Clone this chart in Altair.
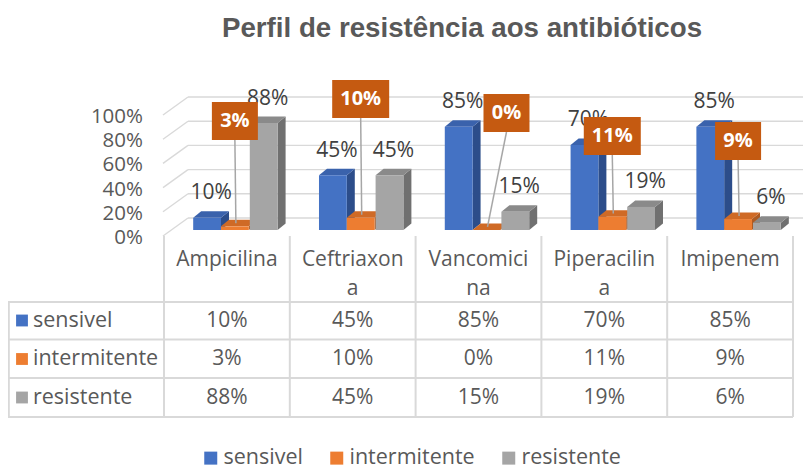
import altair as alt
import pandas as pd

# ---------------- data ----------------
categories = ["Ampicilina", "Ceftriaxona", "Vancomicina", "Piperacilina", "Imipenem"]
category_lines = ["Ampicilina", "Ceftriaxon\na", "Vancomici\nna", "Piperacilin\na", "Imipenem"]
series = ["sensivel", "intermitente", "resistente"]
sensivel = [10, 45, 85, 70, 85]
intermitente = [3, 10, 0, 11, 9]
resistente = [88, 45, 15, 19, 6]
y_ticks = [0, 20, 40, 60, 80, 100]
title_text = "Perfil de resistência aos antibióticos"

# ---------------- styles ----------------
front_colors = ["#4472C4", "#ED7D31", "#A5A5A5"]
side_colors = ["#2C4D8A", "#AD5A22", "#707070"]
top_colors = ["#3A62AC", "#CF6A26", "#8A8A8A"]
label_box_color = "#C55A11"
grid_color = "#D9D9D9"
text_color = "#595959"
label_color = "#404040"
FONT = "Open Sans"

# ---------------- layout (page pixels) ----------------
W, H, PAGE = 795, 457, 8
X0, CW = 164.0, 125.8          # first category edge, category width
BASE, PPP = 230.0, 1.215       # bar base line, pixels per percent
GRID_PPP = 1.21
bar_left = [0.232, 0.453, 0.682]
BW = 0.221
DX = 8.0 / CW
DY = 6.5 / PPP
# orange label boxes (dragged by hand in the original)
box_dx_px = [0, 0, 20, 0, 0]
box_cy_px = [121, 99, 113, 136, 141]


def ux(px):
    return (px - X0) / CW


def vy(py):
    return (BASE - py) / PPP


xdom = [ux(PAGE), ux(PAGE + W)]
ydom = [vy(PAGE + H), vy(PAGE)]
xs = alt.Scale(domain=xdom, nice=False, zero=False)
ys = alt.Scale(domain=ydom, nice=False, zero=False)


def X(f, **kw):
    return alt.X(f, type="quantitative", scale=xs, axis=None, **kw)


def Y(f, **kw):
    return alt.Y(f, type="quantitative", scale=ys, axis=None, **kw)


values = [sensivel, intermitente, resistente]

# ---------------- bar geometry tables ----------------
front_rows, side_rows, top_rows, lab_rows = [], [], [], []
for i, cat in enumerate(categories):
    for s, name in enumerate(series):
        v = values[s][i]
        x0 = i + bar_left[s]
        x1 = x0 + BW
        bid = f"{i}-{s}"
        front_rows.append({"series": name, "x0": x0, "x1": x1, "y0": 0, "y1": v})
        side_rows.append({"id": bid, "col": side_colors[s], "x": x1, "lo": 0, "hi": v})
        side_rows.append({"id": bid, "col": side_colors[s], "x": x1 + DX, "lo": DY, "hi": v + DY})
        top_rows.append({"id": bid, "col": top_colors[s], "y": v, "xa": x0, "xb": x1})
        top_rows.append({"id": bid, "col": top_colors[s], "y": v + DY, "xa": x0 + DX, "xb": x1 + DX})
        if s != 1:
            lab_rows.append({"x": (x0 + x1) / 2 + DX / 2, "y": v + 24.5 / PPP, "t": f"{v}%"})

front_df = pd.DataFrame(front_rows)
side_df = pd.DataFrame(side_rows)
top_df = pd.DataFrame(top_rows)
lab_df = pd.DataFrame(lab_rows)

color_scale = alt.Scale(domain=series, range=front_colors)
legend = alt.Legend(
    orient="none", legendX=192, legendY=439, direction="horizontal", title=None,
    symbolType="square", symbolSize=169, symbolStrokeWidth=0, symbolOpacity=1,
    labelFont=FONT, labelFontSize=21.5, labelColor=text_color,
    columnPadding=23, labelOffset=2, padding=0,
)

sides = alt.Chart(side_df).mark_area(interpolate="linear").encode(
    x=X("x"), y=Y("lo", stack=None), y2="hi", detail="id:N",
    fill=alt.Fill("col:N", scale=None),
)
tops = alt.Chart(top_df).mark_area(orient="horizontal", interpolate="linear").encode(
    y=Y("y"), x=X("xa", stack=None), x2="xb", detail="id:N",
    fill=alt.Fill("col:N", scale=None),
)
fronts = alt.Chart(front_df).mark_rect().encode(
    x=X("x0"), x2="x1", y=Y("y0"), y2="y1",
    color=alt.Color("series:N", scale=color_scale, legend=legend),
)

# ---------------- gridlines (3D back wall + floor diagonals) ----------------
grid_df = pd.DataFrame({
    "v": y_ticks,
    "fx": [ux(163)] * len(y_ticks),
    "bx": [ux(188)] * len(y_ticks),
    "ex": [xdom[1]] * len(y_ticks),
    "fy": [vy(236 - GRID_PPP * t) for t in y_ticks],
    "by": [vy(218 - GRID_PPP * t) for t in y_ticks],
    "ly": [vy(238 - GRID_PPP * t) for t in y_ticks],
    "lx": [ux(143)] * len(y_ticks),
    "t": [f"{t}%" for t in y_ticks],
})
grid_back = alt.Chart(grid_df).mark_rule(color=grid_color, strokeWidth=1.4).encode(
    x=X("bx"), x2="ex", y=Y("by"))
grid_diag = alt.Chart(grid_df).mark_rule(color=grid_color, strokeWidth=1.4).encode(
    x=X("fx"), x2="bx", y=Y("fy"), y2="by")
ytick_labels = alt.Chart(grid_df).mark_text(
    align="right", baseline="middle", font=FONT, fontSize=20.5, color=text_color
).encode(x=X("lx"), y=Y("ly"), text="t:N")

# ---------------- value labels ----------------
value_labels = alt.Chart(lab_df).mark_text(
    align="center", baseline="middle", font=FONT, fontSize=21, color=label_color
).encode(x=X("x"), y=Y("y"), text="t:N")

box_rows, lead_rows = [], []
for i, v in enumerate(intermitente):
    t = f"{v}%"
    oc = i + bar_left[1] + BW / 2
    cx = oc + box_dx_px[i] / CW
    hw = (24 + 11 * len(t)) / 2 / CW
    cy = box_cy_px[i]
    box_rows.append({"x0": cx - hw, "x1": cx + hw, "y0": vy(cy + 19), "y1": vy(cy - 19),
                     "cx": cx, "cy": vy(cy), "t": t})
    lead_rows.append({"x0": cx, "y0": vy(cy + 19), "x1": oc + 1 / CW, "y1": v + 2.5})
box_df = pd.DataFrame(box_rows)
lead_df = pd.DataFrame(lead_rows)

leaders = alt.Chart(lead_df).mark_rule(color="#A6A6A6", strokeWidth=1.5).encode(
    x=X("x0"), y=Y("y0"), x2="x1", y2="y1")
boxes = alt.Chart(box_df).mark_rect(color=label_box_color).encode(
    x=X("x0"), x2="x1", y=Y("y0"), y2="y1")
box_text = alt.Chart(box_df).mark_text(
    align="center", baseline="middle", font=FONT, fontSize=20, fontWeight="bold", color="white"
).encode(x=X("cx"), y=Y("cy"), text="t:N")

# ---------------- data table ----------------
row_lines_px = [302, 339.5, 378, 417]
row_centers_px = [320.5, 359, 397.5]
vlines_df = pd.DataFrame({
    "x": list(range(len(categories) + 1)) + [ux(8.8)],
    "y0": [vy(236)] * (len(categories) + 1) + [vy(302)],
    "y1": [vy(417)] * (len(categories) + 2),
})
hlines_df = pd.DataFrame({
    "y": [vy(p) for p in row_lines_px],
    "x0": [ux(8)] * len(row_lines_px),
    "x1": [len(categories)] * len(row_lines_px),
})
table_v = alt.Chart(vlines_df).mark_rule(color=grid_color, strokeWidth=2).encode(
    x=X("x"), y=Y("y0"), y2="y1")
table_h = alt.Chart(hlines_df).mark_rule(color=grid_color, strokeWidth=2).encode(
    x=X("x0"), x2="x1", y=Y("y"))

cat_df = pd.DataFrame({"x": [i + 0.5 for i in range(len(categories))],
                       "y": [vy(266)] * len(categories), "t": category_lines})
cat_text = alt.Chart(cat_df).mark_text(
    align="center", baseline="alphabetic", font=FONT, fontSize=21, color=text_color,
    lineBreak="\n", lineHeight=29,
).encode(x=X("x"), y=Y("y"), text="t:N")

cell_rows, rowlab_rows = [], []
for s, name in enumerate(series):
    yc = vy(row_centers_px[s])
    rowlab_rows.append({"series": name, "sx": ux(22), "tx": ux(33), "y": yc})
    for i in range(len(categories)):
        cell_rows.append({"x": i + 0.5, "y": yc, "t": f"{values[s][i]}%"})
cell_df = pd.DataFrame(cell_rows)
rowlab_df = pd.DataFrame(rowlab_rows)

cell_text = alt.Chart(cell_df).mark_text(
    align="center", baseline="middle", font=FONT, fontSize=21, color=text_color
).encode(x=X("x"), y=Y("y"), text="t:N")
row_squares = alt.Chart(rowlab_df).mark_square(size=140, opacity=1).encode(
    x=X("sx"), y=Y("y"), color=alt.Color("series:N", scale=color_scale, legend=legend))
row_text = alt.Chart(rowlab_df).mark_text(
    align="left", baseline="middle", font=FONT, fontSize=21.5, color=text_color
).encode(x=X("tx"), y=Y("y"), text="series:N")

# ---------------- title ----------------
title = alt.Chart(pd.DataFrame({"t": [title_text]})).mark_text(
    align="center", baseline="alphabetic", font="Liberation Sans", fontSize=27.7,
    fontWeight="bold", color=text_color,
).encode(x=alt.value(462 - PAGE), y=alt.value(37 - PAGE), text="t:N")

chart = alt.layer(
    grid_back, grid_diag, ytick_labels,
    sides, tops, fronts,
    value_labels, leaders, boxes, box_text,
    table_v, table_h, cat_text, cell_text, row_squares, row_text,
    title,
).properties(
    width=W, height=H, padding=0,
    autosize=alt.AutoSizeParams(type="none"),
).configure_view(stroke=None)

chart.save("out.html", embed_options={"renderer": "svg", "actions": False})
